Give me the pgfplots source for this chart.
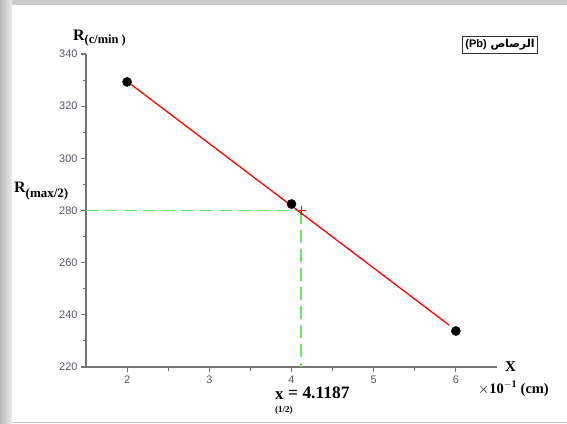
\documentclass[border=0pt]{standalone}
\usepackage{pgfplots}
\pgfplotsset{compat=1.18}
\usepackage{fontspec}
\setmainfont{Liberation Serif}
\newfontfamily\arial{Liberation Sans}
\newfontfamily\arabicfont[Script=Arabic]{DejaVu Sans}
\TeXXeTstate=1
\definecolor{tickgray}{RGB}{85,85,100}
\definecolor{axgray}{RGB}{115,115,115}
\definecolor{dashgreen}{RGB}{100,235,100}
\begin{document}
\begin{tikzpicture}[x=1bp,y=1bp]
\useasboundingbox (0,0) rectangle (567,423);
\fill[gray!40] (0,0) rectangle (567,423);
\shade[left color=gray!55, right color=gray!15] (0,0) rectangle (12,423);
\fill[white] (12,1) rectangle (567,418);
\begin{axis}[
  at={(86bp,56bp)}, anchor=south west,
  width=411bp, height=313bp, scale only axis,
  xmin=1.5, xmax=6.5, ymin=220, ymax=340,
  axis x line*=bottom, axis y line*=left,
  axis line style={draw=axgray, line width=1.5pt},
  tick style={draw=axgray, line width=1.1pt},
  major tick length=5bp, minor tick length=3.5bp,
  tick align=outside,
  xtick={2,3,4,5,6}, ytick={220,240,...,340},
  minor x tick num=1, minor y tick num=1,
  ticklabel style={font=\arial\fontsize{11}{12}\selectfont, text=tickgray},
  /pgf/number format/assume math mode=true,
  clip=false,
]
\addplot[dashgreen, line width=1.8pt, dash pattern=on 13bp off 6bp] coordinates {(1.5,280) (4.1187,280)};
\addplot[dashgreen, line width=1.8pt, dash pattern=on 13bp off 6bp] coordinates {(4.1187,280) (4.1187,220)};
\addplot[red, line width=1.3pt] coordinates {(2.05,328.3) (5.92,236.0)};
\addplot[only marks, mark=*, mark size=4.6pt, black] coordinates {(2,329.3) (4,282.5) (6,233.8)};
\addplot[only marks, mark=+, mark size=4.5pt, red, line width=1pt] coordinates {(4.1187,280)};
\end{axis}
% labels
\node[anchor=base west, font=\bfseries\fontsize{16}{18}\selectfont, inner sep=0] at (73,383) {R\raisebox{-3.5bp}{\fontsize{12.5}{14}\selectfont(c/min )}};
\node[anchor=base west, font=\bfseries\fontsize{16}{18}\selectfont, inner sep=0] at (14,231) {R\raisebox{-5bp}{\fontsize{13}{14}\selectfont(max/2)}};
\node[anchor=base west, font=\bfseries\fontsize{15}{16}\selectfont, inner sep=0] at (505,52) {X};
\node[anchor=base west, font=\bfseries\fontsize{14.5}{16}\selectfont, inner sep=0] at (478,30) {$\times$10\textsuperscript{$-$1} (cm)};
\node[anchor=base west, font=\bfseries\fontsize{17}{18}\selectfont, inner sep=0] at (275,24) {x};
\node[anchor=base west, font=\bfseries\fontsize{17.5}{18}\selectfont, inner sep=0] at (288,25) {= 4.1187};
\node[anchor=base west, font=\bfseries\fontsize{9}{10}\selectfont, inner sep=0] at (275,11) {(1/2)};
% legend box
\node[draw=black!80, line width=0.9pt, fill=white, inner sep=3bp, anchor=center, font=\bfseries\fontsize{11}{12}\selectfont] at (500,378) {\arabicfont\beginR الرصاص \beginL{\arial(Pb)}\endL\endR};
\end{tikzpicture}
\end{document}
